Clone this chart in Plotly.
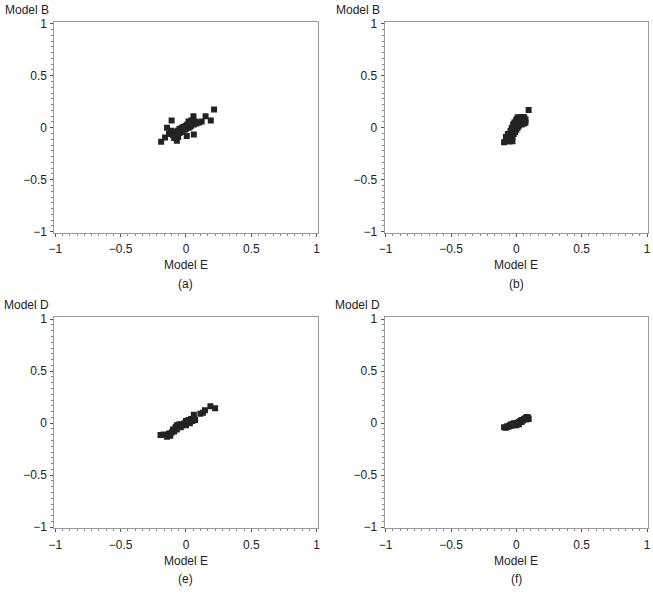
import plotly.graph_objects as go

W, H = 653, 595

# Panel (a): Model E vs Model B
a_x = [-0.19, -0.16, -0.145, -0.13, -0.12, -0.11, -0.10, -0.09, -0.08, -0.07, -0.07, -0.06, -0.05, -0.05,
       -0.04, -0.03, -0.03, -0.02, -0.01, 0.0, 0.0, 0.006, 0.01, 0.02, 0.03, 0.03, 0.04, 0.05, 0.057, 0.06,
       0.06, 0.07, 0.08, 0.10, 0.12, 0.15, 0.19, 0.215, -0.11, -0.09, 0.04, -0.06, 0.02]
a_y = [-0.135, -0.095, 0.0, -0.06, -0.05, 0.07, -0.07, -0.04, -0.09, -0.125, -0.06, -0.03, -0.05, -0.01,
       -0.02, 0.0, -0.04, 0.01, -0.02, 0.02, -0.01, -0.08, 0.03, 0.0, 0.04, 0.01, 0.02, 0.05, 0.11, -0.065,
       0.03, 0.06, 0.04, 0.05, 0.06, 0.11, 0.07, 0.175, -0.03, -0.10, 0.07, -0.09, 0.06]

# Panel (b): Model E vs Model B
b_x = [-0.094, -0.08, -0.07, -0.06, -0.05, -0.04, -0.04, -0.03, -0.03, -0.02, -0.02, -0.01, -0.01, 0.0,
       0.0, 0.01, 0.01, 0.02, 0.02, 0.0, 0.01, 0.03, 0.03, 0.04, 0.05, 0.05, 0.06, 0.07, 0.07, 0.094,
       -0.05, -0.06, -0.08, -0.065, -0.045, -0.035, -0.025, -0.015, -0.005, 0.005, 0.015, 0.025, 0.04,
       0.06, -0.03]
b_y = [-0.14, -0.12, -0.10, -0.13, -0.08, -0.06, -0.11, -0.04, -0.09, -0.02, -0.06, 0.0, -0.04, 0.02,
       -0.02, 0.04, 0.0, 0.06, 0.02, 0.08, 0.10, 0.10, 0.05, 0.03, 0.07, 0.10, 0.04, 0.08, 0.05, 0.17,
       -0.13, -0.09, -0.09, -0.06, -0.03, 0.0, 0.03, 0.05, 0.06, 0.08, 0.07, 0.08, 0.09, 0.10, -0.13]

# Panel (e): Model E vs Model D
e_x = [-0.195, -0.17, -0.145, -0.13, -0.11, -0.10, -0.09, -0.08, -0.07, -0.07, -0.06, -0.05, -0.04, -0.03,
       -0.02, -0.01, 0.0, 0.0, 0.01, 0.02, 0.03, 0.04, 0.05, 0.06, 0.06, 0.07, 0.11, 0.13, 0.145, 0.187,
       0.223, -0.12]
e_y = [-0.113, -0.11, -0.13, -0.10, -0.09, -0.06, -0.08, -0.04, -0.06, -0.02, -0.03, -0.01, -0.04, -0.02,
       -0.01, 0.0, -0.02, 0.02, 0.01, 0.03, 0.0, 0.04, 0.02, 0.05, 0.08, 0.03, 0.09, 0.10, 0.124, 0.162,
       0.143, -0.12]

# Panel (f): Model E vs Model D
f_x = [-0.094, -0.08, -0.07, -0.06, -0.05, -0.04, -0.04, -0.03, -0.02, -0.02, -0.01, 0.0, 0.0, 0.01,
       0.02, 0.02, 0.03, 0.04, 0.04, 0.05, 0.06, 0.07, 0.08, 0.09, 0.094, 0.075]
f_y = [-0.04, -0.045, -0.03, -0.035, -0.02, -0.025, -0.01, -0.015, 0.0, -0.02, -0.005, 0.0, -0.02, 0.005,
       0.01, -0.01, 0.02, 0.01, 0.03, 0.025, 0.04, 0.05, 0.06, 0.055, 0.04, 0.035]

tick_vals = [-1, -0.5, 0, 0.5, 1]
tick_text = ["\u22121", "\u22120.5", "0", "0.5", "1"]

panels = [
    (a_x, a_y, "Model B", "(a)", (49, 316), (17, 232)),
    (b_x, b_y, "Model B", "(b)", (384, 651), (17, 232)),
    (e_x, e_y, "Model D", "(e)", (49, 316), (318, 533)),
    (f_x, f_y, "Model D", "(f)", (384, 651), (318, 533)),
]

def px_x(p):
    return p / W

def px_y(p):
    return 1 - p / H

fig = go.Figure()
FONT = "Liberation Sans, Arial, sans-serif"
annotations = []

for i, (xs, ys, ylab, tag, (x0, x1), (y0, y1)) in enumerate(panels):
    n = "" if i == 0 else str(i + 1)
    fig.add_trace(go.Scatter(
        x=xs, y=ys, mode="markers",
        marker=dict(symbol="square", size=6, color="#232323", line=dict(width=0)),
        xaxis="x" + n, yaxis="y" + n, showlegend=False, hoverinfo="skip"))
    common = dict(
        showgrid=False, zeroline=False, showline=True, mirror=True,
        linecolor="#9a9a9a", linewidth=1,
        tickvals=tick_vals, ticktext=tick_text,
        ticks="outside", ticklen=3, tickcolor="#555", tickwidth=1,
        tickfont=dict(family=FONT, size=12, color="#222"),
        minor=dict(ticks="outside", ticklen=2, tickcolor="#888", dtick=0.5 / 9, tick0=-1),
        fixedrange=True,
    )
    fig.update_layout(**{
        "xaxis" + n: dict(common, domain=[px_x(x0), px_x(x1)], range=[-1.0075, 1.0075],
                          anchor="y" + n, ticklabelstandoff=2, ticklabeloverflow="allow"),
        "yaxis" + n: dict(common, domain=[px_y(y1), px_y(y0)], range=[-1.01, 1.02],
                          anchor="x" + n, ticklabelstandoff=1, ticklabeloverflow="allow"),
    })
    cx = (x0 + x1) / 2
    annotations.append(dict(text=ylab, x=px_x(x0 - 3), y=px_y(y0 - 12), xref="paper", yref="paper",
                            xanchor="right", yanchor="middle", showarrow=False,
                            font=dict(family=FONT, size=12, color="#222")))
    annotations.append(dict(text="Model E", x=px_x(cx), y=px_y(y1 + 33), xref="paper", yref="paper",
                            xanchor="center", yanchor="middle", showarrow=False,
                            font=dict(family=FONT, size=12, color="#222")))
    annotations.append(dict(text=tag, x=px_x(cx), y=px_y(y1 + 52), xref="paper", yref="paper",
                            xanchor="center", yanchor="middle", showarrow=False,
                            font=dict(family=FONT, size=12, color="#222")))

fig.update_layout(
    width=W, height=H, margin=dict(l=0, r=0, t=0, b=0),
    paper_bgcolor="white", plot_bgcolor="white",
    annotations=annotations, showlegend=False,
)

fig.write_html("out.html", config={"displayModeBar": False},
               post_script="document.body.style.margin='0';")
